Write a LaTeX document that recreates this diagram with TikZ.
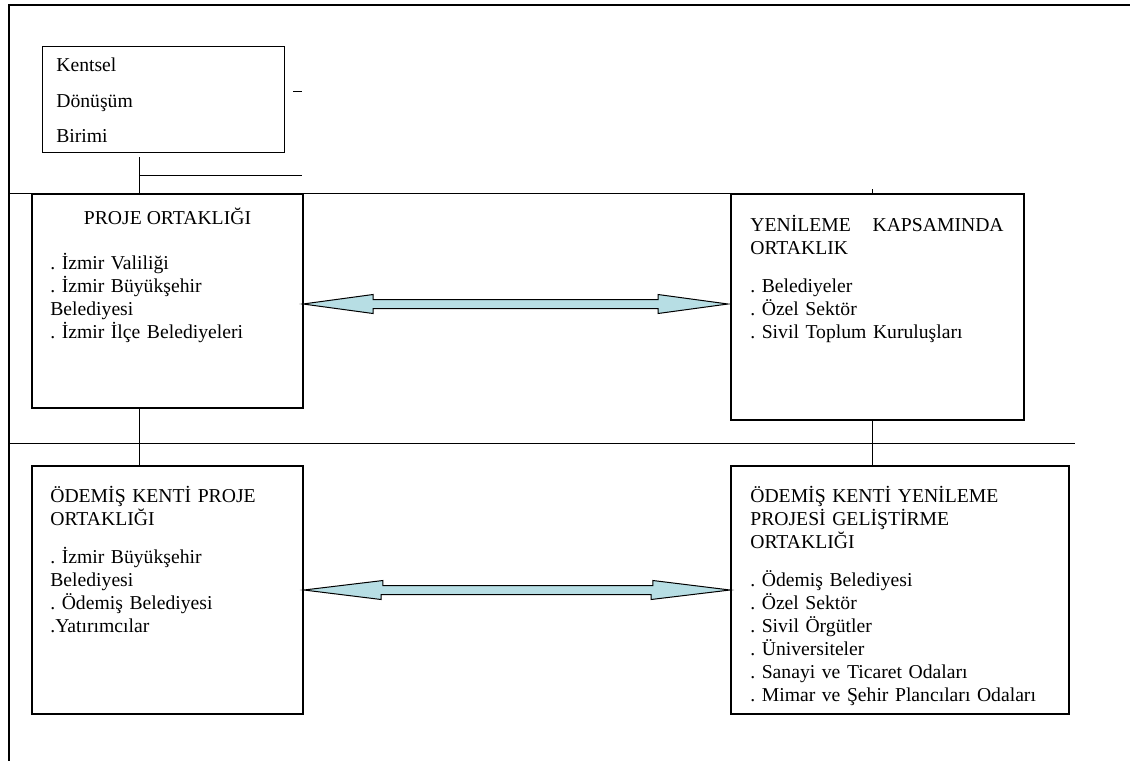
\documentclass[tikz,border=0pt]{standalone}
\usepackage{fontspec}
\setmainfont{Liberation Serif}
\usetikzlibrary{calc}
\frenchspacing

\definecolor{arrowfill}{RGB}{183,222,228}

\begin{document}
\begin{tikzpicture}[
  x=0.6pt, y=-0.6pt,
  unitbox/.style={draw, line width=0.6pt, inner sep=0pt, minimum width=145.2pt, minimum height=63.6pt},
  bigbox/.style={draw, line width=1.1pt, inner sep=0pt},
  txt/.style={font=\fontsize{11.8}{13.8}\selectfont, align=left, text width=200pt,
              anchor=base west, inner sep=0pt},
  head/.style={font=\fontsize{11.8}{13.8}\selectfont, anchor=base, inner sep=0pt},
  link/.style={line width=0.6pt},
  frame/.style={line width=1.1pt},
  dblarrow/.style={draw, line width=0.6pt, fill=arrowfill, line join=miter},
]

\useasboundingbox (0,0) rectangle (1130,761);

% ===== Outer frame =====
\coordinate (f1) at (9,5);
\coordinate (f2) at (1130,5);
\coordinate (f3) at (9,761);
\draw[frame] (f2) -- (f1) -- (f3);

% ===== Kentsel Donusum Birimi =====
\node[unitbox] (kdb) at (163,99) {};
\node[txt] (kdbtxt) at (56,71.5) {Kentsel\\[7.5pt]Dönüşüm\\[7.5pt]Birimi};
\coordinate (dsh1) at (293,91);
\coordinate (dsh2) at (302,91);
\draw[link] (dsh1) -- (dsh2);

% ===== Boxes =====
\node[bigbox, minimum width=162.6pt, minimum height=128.4pt] (pl) at (167.5,301) {};
\node[bigbox, minimum width=175.8pt, minimum height=135.6pt] (yr) at (877.5,307) {};
\node[bigbox, minimum width=162.6pt, minimum height=148.8pt] (bl) at (167.5,590) {};
\node[bigbox, minimum width=202.8pt, minimum height=148.8pt] (br) at (900,590) {};

% ===== Connecting lines =====
\coordinate (k1) at (139,157);
\coordinate (k2) at (139,175);
\coordinate (k3) at (302,175);
\draw[link] (k1) -- (k1 |- pl.north);
\draw[link] (k2) -- (k3);

\coordinate (h1) at (9,193);
\draw[link] (h1) -- (h1 -| yr.west);
\coordinate (t1) at (872,189);
\draw[link] (t1) -- (t1 |- yr.north);

\coordinate (h2) at (9,443);
\coordinate (h3) at (1075,443);
\draw[link] (h2) -- (h3);
\draw[link] (k1 |- pl.south) -- (k1 |- bl.north);
\draw[link] (t1 |- yr.south) -- (t1 |- br.north);

% ===== Double arrows =====
\coordinate (a1) at (303,304);
\coordinate (a2) at (728,304);
\draw[dblarrow] (a1) -- ++(70,-9.5) -- ++(0,5) -- ++(285,0) -- ++(0,-5) -- (a2)
  -- ++(-70,9.5) -- ++(0,-5) -- ++(-285,0) -- ++(0,5) -- cycle;

\coordinate (b1) at (bl.east);
\coordinate (b2) at (br.west);
\draw[dblarrow] (b1) -- ++(79,-9.5) -- ++(0,5) -- ++(270,0) -- ++(0,-5) -- (b2)
  -- ++(-79,9.5) -- ++(0,-5) -- ++(-270,0) -- ++(0,5) -- cycle;

% ===== Texts =====
\node[head] (plhead) at (167.5,224) {PROJE ORTAKLIĞI};
\node[txt] (pltxt) at (50,269) {. İzmir Valiliği\\. İzmir Büyükşehir\\Belediyesi\\. İzmir İlçe Belediyeleri};

\node[txt] (yrtxt) at (750,231) {\makebox[152pt][l]{YENİLEME\hfill KAPSAMINDA}\\ORTAKLIK\\[9pt]%
  . Belediyeler\\. Özel Sektör\\. Sivil Toplum Kuruluşları};

\node[txt] (bltxt) at (50,502) {ÖDEMİŞ KENTİ PROJE\\ORTAKLIĞI\\[9pt]%
  . İzmir Büyükşehir\\Belediyesi\\. Ödemiş Belediyesi\\.Yatırımcılar};

\node[txt] (brtxt) at (750,502) {ÖDEMİŞ KENTİ YENİLEME\\PROJESİ GELİŞTİRME\\ORTAKLIĞI\\[9pt]%
  . Ödemiş Belediyesi\\. Özel Sektör\\. Sivil Örgütler\\. Üniversiteler\\%
  . Sanayi ve Ticaret Odaları\\. Mimar ve Şehir Plancıları Odaları};

\end{tikzpicture}
\end{document}
